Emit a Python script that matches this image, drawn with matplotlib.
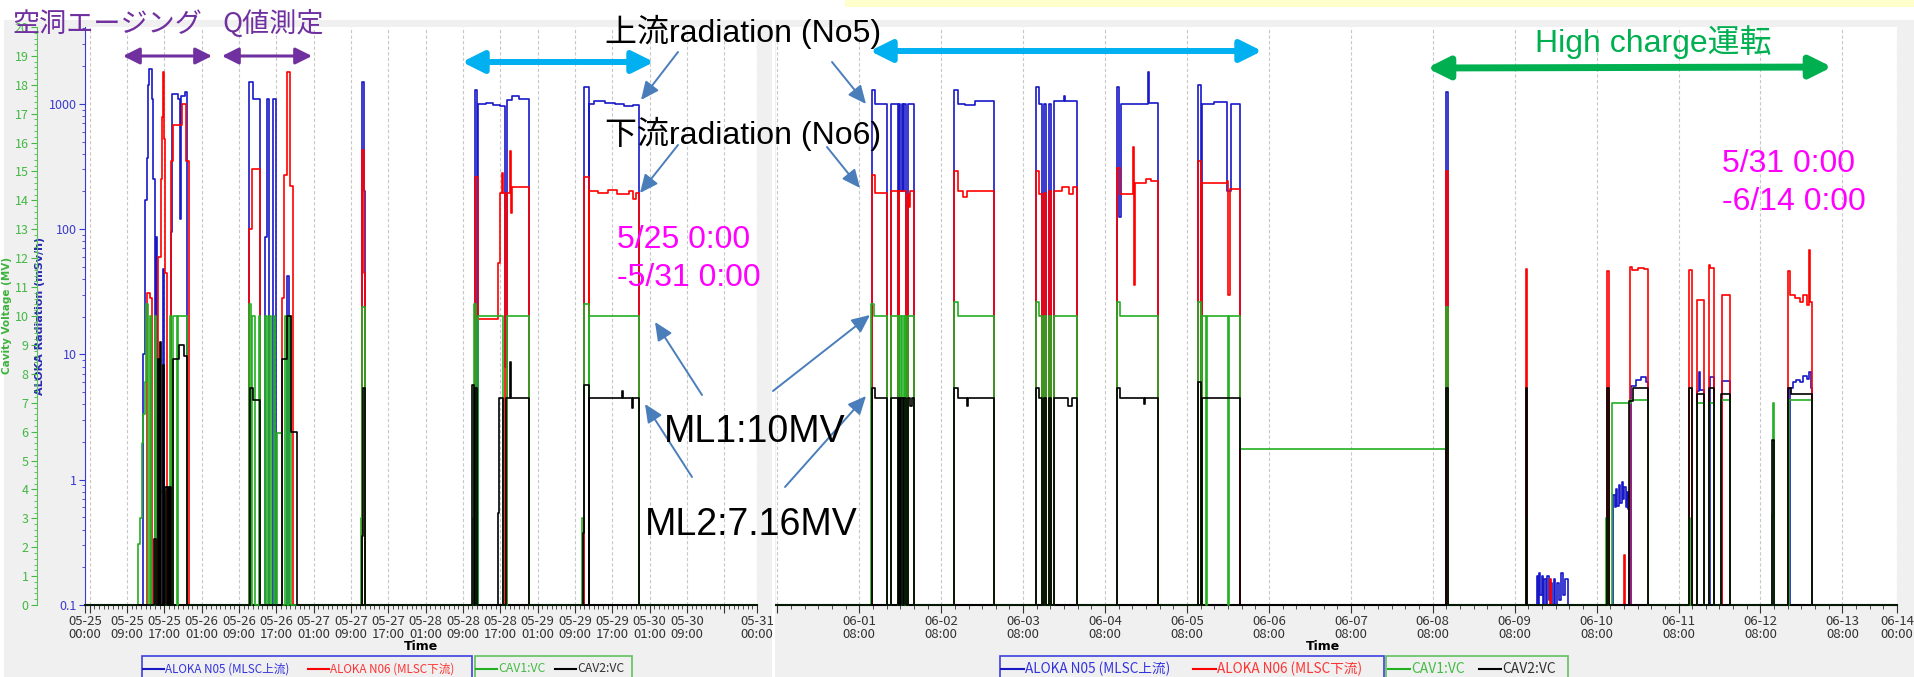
import datetime as dt
import matplotlib
matplotlib.use('Agg')
import matplotlib.pyplot as plt
import matplotlib.ticker as mticker
from matplotlib.patches import Rectangle, FancyArrowPatch
from matplotlib.lines import Line2D

W, H = 1915, 677

# two monitor screens: 5/25-5/31 and 5/31-6/14, times in hours after panel start
LEFT_START = dt.datetime(2023, 5, 25)
LEFT_RANGE = (0, 144)
RIGHT_START = dt.datetime(2023, 5, 31)
RIGHT_RANGE = (7.6, 336)

# ALOKA N05 (upstream radiation, mSv/h)
n05_left = [
    (12.4, 10), (12.8, 170), (13.2, 370), (13.5, 1400), (13.8, 1900), (14.3, 1100), (14.6, 250), (15.0, 0.1),
    (15.2, 87), (15.5, 0.1), (16.7, 48), (17.0, 0.1), (18.4, 95), (18.7, 1200), (20.0, 1100), (20.3, 120),
    (20.6, 1150), (21.5, 1250), (21.9, 0.1),
    (35.2, 1500), (35.9, 1100), (37.5, 0.1), (38.6, 87), (39.0, 1100), (39.4, 0.1), (40.3, 1100), (40.9, 0.1),
    (43.3, 42), (43.7, 0.1),
    (59.3, 1500), (59.8, 200), (60.1, 0.1),
    (83.5, 1300), (84.0, 0.1), (84.2, 1000), (86.0, 1020), (87.5, 980), (89.0, 960), (90.0, 8), (90.4, 1080),
    (91.5, 1150), (93.0, 1100), (95.1, 0.1),
    (107.0, 1350), (107.9, 0.1), (108.1, 1000), (109.0, 1050), (111.5, 1020), (113.5, 990), (115.5, 960),
    (117.5, 980), (118.7, 0.1),
]
# ALOKA N06 (downstream radiation, mSv/h)
n06_left = [
    (13.3, 31), (13.9, 28), (14.4, 0.1), (15.6, 60), (16.3, 250), (16.5, 790), (16.7, 1800), (17.0, 520),
    (17.2, 45), (17.5, 0.1), (18.4, 350), (18.9, 680), (20.8, 1000), (21.6, 350), (22.2, 0.1),
    (35.1, 100), (35.7, 300), (37.5, 0.1), (42.3, 28), (42.7, 270), (43.3, 1800), (44.0, 220), (44.5, 0.1),
    (59.4, 430), (59.8, 45), (60.1, 0.1),
    (83.5, 260), (84.2, 19), (88.5, 54), (88.9, 195), (89.3, 280), (89.5, 195), (90.0, 0.1), (90.4, 195),
    (91.0, 420), (91.3, 135), (91.6, 215), (95.1, 0.1),
    (107.0, 260), (107.9, 0.1), (108.1, 200), (110.0, 195), (112.0, 205), (114.0, 190), (116.5, 200),
    (117.5, 175), (118.0, 195), (118.7, 0.1),
]
# CAV1 / CAV2 cavity voltage (MV)
cav1_left = [
    (11.4, 2.1), (11.8, 3.0), (12.2, 5.6), (12.5, 6.6), (12.8, 7.7), (13.1, 10.4), (13.5, 0), (13.9, 10),
    (14.2, 0), (15.0, 10), (15.3, 0), (15.9, 3.9), (17.1, 0), (18.2, 10), (18.5, 0), (18.8, 10), (19.8, 0),
    (20.0, 10), (21.9, 0),
    (35.2, 10.4), (35.5, 0), (35.8, 10), (36.4, 0), (37.2, 10), (37.6, 0), (38.6, 10), (38.9, 0), (39.4, 10),
    (39.8, 0), (40.4, 10), (40.8, 0), (41.1, 5.95), (42.2, 0), (42.8, 10), (43.2, 0), (43.8, 10), (44.1, 0),
    (59.2, 3.0), (59.4, 10.3), (60.0, 0),
    (83.1, 3.0), (83.4, 10.4), (83.8, 0), (84.2, 10), (89.6, 0), (90.4, 10), (95.1, 0),
    (106.6, 3.0), (106.9, 10.4), (107.9, 0), (108.1, 10), (118.7, 0),
]
cav2_left = [
    (14.8, 2.3), (15.2, 0), (15.6, 8.5), (15.8, 0), (16.0, 9.1), (16.3, 0), (16.7, 8.3), (17.0, 0), (17.2, 4.1),
    (17.5, 0), (17.7, 4.1), (18.0, 0), (18.2, 4.1), (18.5, 0), (18.8, 8.5), (20.2, 9.0), (21.3, 8.6), (21.9, 0),
    (35.4, 7.5), (35.9, 7.1), (37.5, 0), (42.3, 8.5), (43.3, 10.0), (44.2, 6.0), (45.4, 0),
    (59.3, 2.4), (59.5, 7.5), (60.0, 0),
    (83.0, 7.6), (83.3, 0), (83.5, 7.5), (84.0, 0), (88.5, 3.2), (88.8, 7.16), (89.6, 0), (90.2, 7.16),
    (91.0, 8.4), (91.3, 7.16), (95.1, 0),
    (106.7, 2.5), (107.0, 7.6), (107.9, 0), (108.1, 7.16), (115.0, 7.4), (115.2, 7.16), (117.3, 6.8),
    (117.5, 7.16), (118.7, 0),
]

n05_right = [
    (35.7, 1300), (36.5, 1000), (40.2, 0.1), (41.4, 1000), (43.2, 0.1), (43.5, 1000), (44.0, 200), (44.4, 1000),
    (44.8, 200), (45.2, 1000), (45.6, 0.1), (46.3, 1000), (48.1, 0.1),
    (59.8, 1300), (60.8, 1000), (63.0, 970), (66.0, 1050), (71.5, 0.1),
    (83.8, 1350), (84.6, 1000), (85.6, 0.1), (86.0, 1000), (86.6, 0.1), (87.6, 1000), (88.2, 0.1), (89.0, 1050),
    (92.0, 1150), (92.3, 1050), (95.8, 0.1),
    (107.5, 1350), (108.1, 125), (108.7, 1000), (116.5, 1800), (116.8, 1020), (119.5, 0.1),
    (131.2, 1400), (132.0, 0.1), (132.4, 1000), (136.0, 1040), (139.8, 200), (140.8, 1000), (143.5, 0.1),
    (203.8, 1250), (204.6, 0.1),
    (230.4, 0.17), (230.8, 0.1), (231.1, 0.18), (231.5, 0.12), (231.9, 0.17), (232.3, 0.1), (232.7, 0.16),
    (233.2, 0.1), (233.6, 0.17), (234.0, 0.11), (234.4, 0.15), (234.8, 0.1), (235.4, 0.16), (235.9, 0.1),
    (236.5, 0.15), (237.0, 0.11), (237.6, 0.18), (238.2, 0.12), (238.8, 0.16), (239.5, 0.1),
    (252.9, 0.75), (253.3, 0.6), (253.7, 0.85), (254.1, 0.62), (254.5, 0.9), (254.9, 0.65), (255.3, 0.95),
    (255.7, 0.7), (256.1, 0.88), (256.5, 0.6), (256.9, 0.8), (257.3, 0.58), (257.6, 0.1),
    (258.2, 5.6), (259.5, 6.2), (261.0, 6.6), (262.5, 6.0), (263.2, 0.1),
    (277.5, 5.1), (278.0, 7.2), (278.3, 5.2), (279.6, 0.1), (281.1, 6.6), (282.5, 0.1), (284.6, 6.1), (287.2, 0.1),
    (304.7, 5.4), (305.5, 6.0), (306.5, 6.3), (307.5, 6.0), (308.5, 6.7), (309.5, 6.4), (310.3, 7.3),
    (310.7, 5.4), (311.2, 0.1),
]
n06_right = [
    (35.7, 270), (36.5, 195), (40.2, 0.1), (41.4, 200), (43.2, 0.1), (43.5, 200), (45.6, 0.1), (46.3, 190),
    (46.6, 150), (46.9, 200), (48.1, 0.1),
    (59.8, 290), (60.8, 200), (62.5, 180), (63.5, 200), (71.5, 0.1),
    (83.8, 290), (84.6, 190), (85.6, 0.1), (86.0, 195), (86.6, 0.1), (87.6, 200), (88.2, 0.1), (89.0, 200),
    (91.5, 215), (93.5, 190), (94.5, 215), (95.8, 0.1),
    (107.5, 310), (108.3, 190), (112.3, 450), (112.5, 36), (112.7, 235), (116.0, 250), (117.5, 240), (119.5, 0.1),
    (131.2, 350), (132.0, 0.1), (132.5, 235), (139.8, 240), (140.0, 30), (140.5, 210), (143.5, 0.1),
    (203.8, 290), (204.6, 0.1),
    (227.4, 48), (227.7, 0.1),
    (234.4, 0.16), (234.6, 0.1),
    (251.1, 46), (251.5, 0.1), (256.1, 0.25), (256.3, 0.1), (257.9, 50), (258.5, 47), (260.0, 49), (262.0, 48),
    (263.2, 0.1),
    (275.2, 47), (275.8, 0.1), (277.5, 27), (279.6, 0.1), (280.8, 52), (281.1, 49), (282.5, 0.1), (284.6, 30),
    (287.2, 0.1),
    (304.2, 46), (304.8, 30), (306.0, 28), (307.5, 26), (308.5, 30), (309.5, 25), (310.3, 68), (310.6, 26),
    (311.2, 0.1),
]
cav1_right = [
    (35.5, 10.4), (36.4, 10), (40.2, 0), (41.4, 10), (43.2, 0), (43.6, 10), (44.2, 0), (44.5, 10), (45.0, 0),
    (45.3, 10), (45.7, 0), (46.3, 10), (48.1, 0),
    (59.6, 10.5), (60.8, 10), (71.5, 0),
    (83.7, 10.5), (84.6, 10), (85.6, 0), (86.0, 10), (86.6, 0), (87.6, 10), (88.2, 0), (89.0, 10), (95.8, 0),
    (107.4, 10.5), (108.5, 10), (119.5, 0),
    (131.1, 10.5), (132.0, 0), (132.5, 10), (133.7, 0), (134.0, 10), (139.9, 0), (140.3, 10), (143.5, 5.4),
    (203.8, 10.3), (204.6, 0),
    (227.3, 3.0), (227.7, 0),
    (250.8, 3.0), (251.3, 0), (252.6, 7.0), (258.2, 7.1), (263.2, 0),
    (275.0, 3.0), (275.5, 0), (277.3, 7.0), (279.6, 0), (281.0, 7.0), (282.5, 0), (284.4, 7.1), (287.2, 0),
    (299.3, 3.1), (299.6, 7.0), (300.0, 0),
    (304.5, 7.1), (311.0, 0),
]
cav2_right = [
    (35.6, 7.5), (36.5, 7.16), (40.2, 0), (41.4, 7.16), (43.2, 0), (43.5, 7.16), (44.0, 0), (44.3, 7.16),
    (44.8, 0), (45.2, 7.16), (45.7, 0), (46.3, 7.16), (47.0, 6.9), (47.4, 7.16), (48.1, 0),
    (59.7, 7.5), (60.9, 7.16), (63.5, 6.9), (63.9, 7.16), (71.5, 0),
    (83.7, 7.5), (84.6, 7.16), (85.6, 0), (86.0, 7.16), (86.6, 0), (87.6, 7.16), (88.2, 0), (89.0, 7.16),
    (93.2, 6.9), (94.4, 7.16), (95.8, 0),
    (107.4, 7.5), (108.5, 7.16), (115.5, 6.95), (115.8, 7.16), (119.5, 0),
    (131.1, 7.7), (132.0, 0), (132.5, 7.16), (143.5, 0),
    (203.8, 7.5), (204.6, 0),
    (227.3, 7.5), (227.7, 0),
    (251.1, 7.5), (251.5, 0), (257.6, 7.05), (258.6, 7.5), (263.2, 0),
    (275.2, 7.5), (275.8, 0), (277.3, 7.3), (279.6, 0), (280.9, 7.5), (282.5, 0), (284.4, 7.3), (287.2, 0),
    (299.4, 5.7), (299.9, 0),
    (304.1, 7.5), (305.0, 7.3), (311.2, 0),
]

BLUE, RED, GREEN, BLACK = '#1818c8', '#ff0000', '#22b022', '#000000'
TICK_FONT = 'Noto Sans CJK JP'
ANN_FONT = ['Liberation Sans', 'Noto Sans CJK JP']

fig = plt.figure(figsize=(W / 100, H / 100), dpi=100)


def fx(x):
    return x / W


def fy(y):
    return 1 - y / H


def block(x0, y0, x1, y1, color):
    fig.add_artist(Rectangle((fx(x0), fy(y1)), fx(x1) - fx(x0), fy(y0) - fy(y1),
                             transform=fig.transFigure, facecolor=color, edgecolor='none', zorder=-10))


block(4, 20, 772, 677, '#f0f0f0')
block(775, 20, 1915, 677, '#f0f0f0')
block(845, 0, 1915, 7, '#ffffcc')


def step_series(start, rng, points, base):
    hs = [rng[0]] + [p[0] for p in points] + [rng[1]]
    vs = [base] + [p[1] for p in points] + [base]
    return [start + dt.timedelta(hours=h) for h in hs], vs


def make_panel(rect, start, rng, n05, n06, cav1, cav2, show_y):
    ax = fig.add_axes(rect)
    for pts, col in ((n05, BLUE), (n06, RED)):
        t, v = step_series(start, rng, pts, 0.1)
        ax.plot(t, v, drawstyle='steps-post', color=col, lw=1.2)
    ax.set_yscale('log')
    ax.set_ylim(0.1, 4100)
    ax.set_xlim(start + dt.timedelta(hours=rng[0]), start + dt.timedelta(hours=rng[1]))

    axv = ax.twinx()
    for pts, col in ((cav1, GREEN), (cav2, BLACK)):
        t, v = step_series(start, rng, pts, 0)
        axv.plot(t, v, drawstyle='steps-post', color=col, lw=1.2, clip_on=False)
    axv.set_ylim(0, 20)

    for s in ('top', 'right'):
        ax.spines[s].set_visible(False)
    ax.spines['bottom'].set_color('black')
    ax.spines['bottom'].set_linewidth(1.5)
    for s in ('top', 'right', 'bottom'):
        axv.spines[s].set_visible(False)

    if show_y:
        ax.spines['left'].set_color('#3a3ad0')
        ax.set_yticks([0.1, 1, 10, 100, 1000], labels=['0.1', '1', '10', '100', '1000'])
        ax.yaxis.set_minor_locator(mticker.LogLocator(subs=range(2, 10)))
        ax.yaxis.set_minor_formatter(mticker.NullFormatter())
        ax.tick_params(axis='y', which='both', colors='#3a3ad0', labelsize=9, pad=2)
        ax.tick_params(axis='y', which='major', length=4)
        ax.tick_params(axis='y', which='minor', length=2.5)
        for lab in ax.get_yticklabels():
            lab.set_family(TICK_FONT)
        ax.set_ylabel('ALOKA Radiation (mSv/h)', color='#2828b0', fontweight='bold', fontsize=8)
        ax.yaxis.set_label_coords(-40 / 672, 0.5)

        axv.yaxis.tick_left()
        axv.yaxis.set_label_position('left')
        axv.spines['left'].set_position(('axes', -48 / 672))
        axv.spines['left'].set_color('#5cc05c')
        axv.set_yticks(range(0, 21))
        axv.yaxis.set_minor_locator(mticker.MultipleLocator(0.2))
        axv.tick_params(axis='y', which='both', colors='#44b844', labelsize=9, pad=2)
        axv.tick_params(axis='y', which='major', length=4)
        axv.tick_params(axis='y', which='minor', length=2.5)
        for lab in axv.get_yticklabels():
            lab.set_family(TICK_FONT)
        axv.set_ylabel('Cavity Voltage (MV)', color='#3cb43c', fontweight='bold', fontsize=7.5)
        axv.yaxis.set_label_coords(-73 / 672, 0.5)
    else:
        ax.spines['left'].set_visible(False)
        axv.spines['left'].set_visible(False)
        ax.tick_params(axis='y', which='both', left=False, labelleft=False)
        axv.tick_params(axis='y', which='both', left=False, right=False, labelleft=False, labelright=False)
    return ax


axL = make_panel([fx(85), fy(605), fx(757) - fx(85), fy(27) - fy(605)],
                 LEFT_START, LEFT_RANGE, n05_left, n06_left, cav1_left, cav2_left, True)
axR = make_panel([fx(776), fy(605), fx(1897) - fx(776), fy(27) - fy(605)],
                 RIGHT_START, RIGHT_RANGE, n05_right, n06_right, cav1_right, cav2_right, False)


def time_axis(ax, start, rng, hours_of_day, minor_step, no_label, label_x):
    majors, labels, minors = [], [], []
    h = int(rng[0])
    while h <= rng[1]:
        t = start + dt.timedelta(hours=h)
        if h >= rng[0]:
            if t.hour in hours_of_day or h == rng[1] or h == 0:
                majors.append(t)
                labels.append('' if h in no_label else t.strftime('%m-%d\n%H:%M'))
            elif h % minor_step == 0:
                minors.append(t)
        h += 1
    ax.set_xticks(majors, labels=labels)
    ax.set_xticks(minors, minor=True)
    ax.tick_params(axis='x', which='major', length=6, color='#333333', labelcolor='#333333',
                   labelsize=9.5, pad=1.5)
    ax.tick_params(axis='x', which='minor', length=3, color='#333333')
    for lab in ax.get_xticklabels():
        lab.set_family(TICK_FONT)
        lab.set_linespacing(0.95)
    ax.grid(axis='x', which='major', color='#c8c8c8', linestyle=(0, (3, 2)), lw=0.8)
    ax.set_xlabel('Time', fontweight='bold', fontsize=9)
    ax.xaxis.set_label_coords(label_x, -(646 - 605) / 578)
    ax.xaxis.label.set_va('center')


time_axis(axL, LEFT_START, LEFT_RANGE, (1, 9, 17), 1, (1, 137), 0.5)
time_axis(axR, RIGHT_START, RIGHT_RANGE, (8,), 4, (8,), (1323 - 776) / 1121)


def legend_box(x0, x1, edge, entries, size):
    fig.add_artist(Rectangle((fx(x0), fy(690)), fx(x1) - fx(x0), fy(656) - fy(690),
                             transform=fig.transFigure, facecolor='none', edgecolor=edge, lw=1.2))
    for hx0, hx1, text, lcol, tcol in entries:
        fig.add_artist(Line2D([fx(hx0), fx(hx1)], [fy(669), fy(669)], transform=fig.transFigure,
                              color=lcol, lw=1.5))
        fig.text(fx(hx1 + 1), fy(669), text, color=tcol, fontsize=size, family=TICK_FONT,
                 ha='left', va='center')


legend_box(142, 472, '#4040e0', [(143, 164, 'ALOKA N05 (MLSC上流)', BLUE, '#3333dd'),
                                 (308, 329, 'ALOKA N06 (MLSC下流)', RED, '#ff3333')], 8.4)
legend_box(475, 632, '#60c060', [(476, 497, 'CAV1:VC', GREEN, '#44bb44'),
                                 (555, 576, 'CAV2:VC', BLACK, '#333333')], 8.8)
legend_box(1000, 1384, '#4040e0', [(1001, 1024, 'ALOKA N05 (MLSC上流)', BLUE, '#3333dd'),
                                   (1193, 1216, 'ALOKA N06 (MLSC下流)', RED, '#ff3333')], 9.8)
legend_box(1386, 1568, '#60c060', [(1388, 1410, 'CAV1:VC', GREEN, '#44bb44'),
                                   (1479, 1501, 'CAV2:VC', BLACK, '#333333')], 10)


def arrow(p0, p1, color, lw, head_len, head_w, style='-|>'):
    fig.add_artist(FancyArrowPatch((fx(p0[0]), fy(p0[1])), (fx(p1[0]), fy(p1[1])),
                                   transform=fig.transFigure, color=color, lw=lw, mutation_scale=1,
                                   arrowstyle=f'{style},head_length={head_len},head_width={head_w}',
                                   shrinkA=0, shrinkB=0))


def note(x, y, s, color, size, family=ANN_FONT):
    fig.text(fx(x), fy(y), s, color=color, fontsize=size, family=family, ha='left', va='baseline')


PURPLE, CYAN, DGREEN, STEEL, MAGENTA = '#7030a0', '#00b0f0', '#00b050', '#4a7ebb', '#ff00ff'

note(12, 32, '空洞エージング', PURPLE, 19.5, 'Noto Sans CJK JP')
note(222, 32, 'Q値測定', PURPLE, 19.5, 'Noto Sans CJK JP')
arrow((123, 56), (212, 56), PURPLE, 2.2, 10, 5, '<|-|>')
arrow((222, 56), (312, 56), PURPLE, 2.2, 10, 5, '<|-|>')

arrow((462, 62), (654, 62), CYAN, 4.3, 13, 6.5, '<|-|>')
arrow((870, 51), (1262, 51), CYAN, 4.3, 13, 6.5, '<|-|>')
arrow((1427, 68), (1832, 67), DGREEN, 5, 13, 6.5, '<|-|>')
note(1535, 52, 'High charge運転', DGREEN, 23)

note(605, 42, '上流radiation (No5)', 'black', 23)
note(605, 144, '下流radiation (No6)', 'black', 23)
note(617, 248, '5/25 0:00', MAGENTA, 23)
note(617, 286, '-5/31 0:00', MAGENTA, 23)
note(1722, 172, '5/31 0:00', MAGENTA, 23)
note(1722, 210, '-6/14 0:00', MAGENTA, 23)
note(664, 442, 'ML1:10MV', 'black', 27)
note(645, 535, 'ML2:7.16MV', 'black', 27)

for p0, p1 in [((678, 52), (641, 100)), ((678, 145), (640, 193)),
               ((832, 62), (866, 104)), ((827, 147), (860, 188)),
               ((702, 395), (655, 322)), ((773, 391), (870, 315)),
               ((692, 477), (645, 404)), ((785, 487), (866, 396))]:
    arrow(p0, p1, STEEL, 1.4, 11, 5)

fig.savefig('out.png', dpi=100)
